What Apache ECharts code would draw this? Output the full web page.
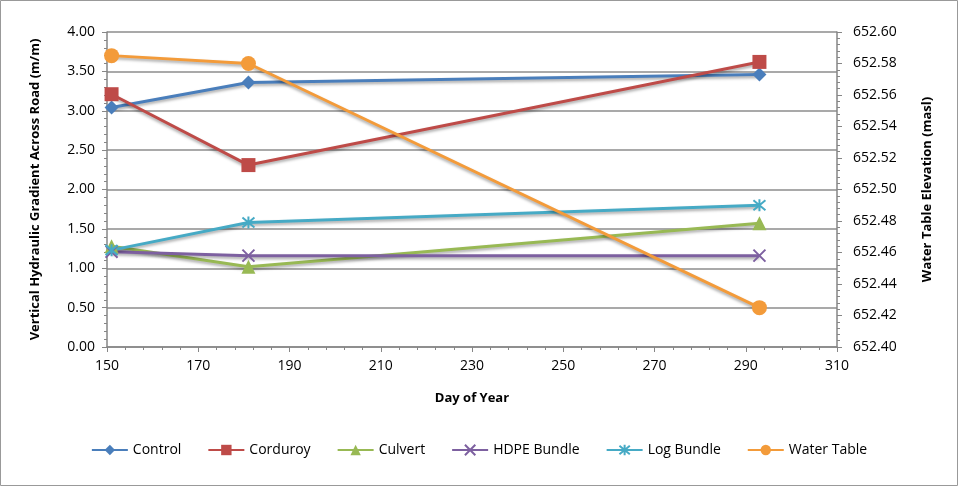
<!DOCTYPE html>
<html><head><meta charset="utf-8">
<script src="https://cdn.jsdelivr.net/npm/echarts@6/dist/echarts.min.js"></script>
<style>html,body{margin:0;padding:0;background:#fff}#c{width:958px;height:486px}</style>
</head><body><div id="c"></div>
<script>
const days = [151, 181, 293];
const control = [3.04, 3.36, 3.46];
const corduroy = [3.21, 2.31, 3.62];
const culvert = [1.28, 1.02, 1.57];
const hdpe = [1.21, 1.16, 1.16];
const logBundle = [1.23, 1.58, 1.80];
const waterTable = [652.585, 652.580, 652.425];

const font = '"Open Sans", "Noto Sans", sans-serif';
const xPath = 'path://M0,0 L10,10 M10,0 L0,10';
const starPath = 'path://M0,0 L10,10 M10,0 L0,10 M5,-1 L5,11';

function mk(name, vals, color, symbol, size, yIdx, stroke) {
  return {
    name, type: 'line', yAxisIndex: yIdx || 0,
    data: days.map((d, i) => [d, vals[i]]),
    symbol, symbolSize: size,
    lineStyle: { color, width: 3, shadowBlur: 3, shadowColor: 'rgba(0,0,0,0.35)', shadowOffsetY: 2 },
    itemStyle: stroke ? { color: 'rgba(0,0,0,0)', borderColor: color, borderWidth: 2 } : { color },
    color,
    z: 3
  };
}

const chart = echarts.init(document.getElementById('c'));
chart.setOption({
  animation: false,
  textStyle: { fontFamily: font },
  graphic: [{ type: 'rect', shape: { x: 0.5, y: 0.5, width: 957, height: 485 }, style: { fill: 'none', stroke: '#999', lineWidth: 1 }, silent: true }],
  grid: { left: 107, right: 121, top: 32, bottom: 139 },
  legend: {
    bottom: 24, left: 'center', itemGap: 26, itemWidth: 36, itemHeight: 13,
    textStyle: { fontSize: 14, color: '#000', fontFamily: font },
    data: ['Control', 'Corduroy', 'Culvert', 'HDPE Bundle', 'Log Bundle', 'Water Table']
  },
  xAxis: {
    type: 'value', min: 150, max: 310, interval: 20,
    name: 'Day of Year', nameLocation: 'middle', nameGap: 45,
    nameTextStyle: { fontSize: 13, fontWeight: 'bold', color: '#000', fontFamily: font },
    axisLine: { lineStyle: { color: '#868686', width: 1.5 } },
    axisTick: { show: true, length: 5, lineStyle: { color: '#868686' } },
    minorTick: { show: true, splitNumber: 5, length: 3, lineStyle: { color: '#868686' } },
    axisLabel: { fontSize: 14, color: '#000', margin: 12 },
    splitLine: { show: false }
  },
  yAxis: [{
    type: 'value', min: 0, max: 4, interval: 0.5, position: 'left',
    name: 'Vertical Hydraulic Gradient Across Road (m/m)', nameLocation: 'middle', nameGap: 65, nameRotate: 90,
    nameTextStyle: { fontSize: 13, fontWeight: 'bold', color: '#000', fontFamily: font },
    axisLine: { show: true, lineStyle: { color: '#868686', width: 1.5 } },
    axisTick: { show: true, length: 5, lineStyle: { color: '#868686' } },
    minorTick: { show: true, splitNumber: 5, length: 3, lineStyle: { color: '#868686' } },
    axisLabel: { fontSize: 14, color: '#000', margin: 12, formatter: v => v.toFixed(2) },
    splitLine: { show: true, lineStyle: { color: '#8c8c8c', width: 1.5 } }
  }, {
    type: 'value', min: 652.40, max: 652.60, interval: 0.02, position: 'right',
    name: 'Water Table Elevation (masl)', nameLocation: 'middle', nameGap: 84, nameRotate: 90,
    nameTextStyle: { fontSize: 13, fontWeight: 'bold', color: '#000', fontFamily: font },
    axisLine: { show: true, lineStyle: { color: '#868686', width: 1.5 } },
    axisTick: { show: true, length: 5, lineStyle: { color: '#868686' } },
    minorTick: { show: true, splitNumber: 5, length: 3, lineStyle: { color: '#868686' } },
    axisLabel: { fontSize: 14, color: '#000', margin: 16, formatter: v => v.toFixed(2) },
    splitLine: { show: false }
  }],
  series: [
    mk('Control', control, '#4A7EBB', 'diamond', 14),
    mk('Corduroy', corduroy, '#BE4B48', 'rect', 14),
    mk('Culvert', culvert, '#98B954', 'triangle', 14),
    mk('HDPE Bundle', hdpe, '#7D60A0', xPath, 12, 0, true),
    mk('Log Bundle', logBundle, '#46AAC5', starPath, 12, 0, true),
    mk('Water Table', waterTable, '#F39B3A', 'circle', 15, 1)
  ]
});
</script></body></html>
